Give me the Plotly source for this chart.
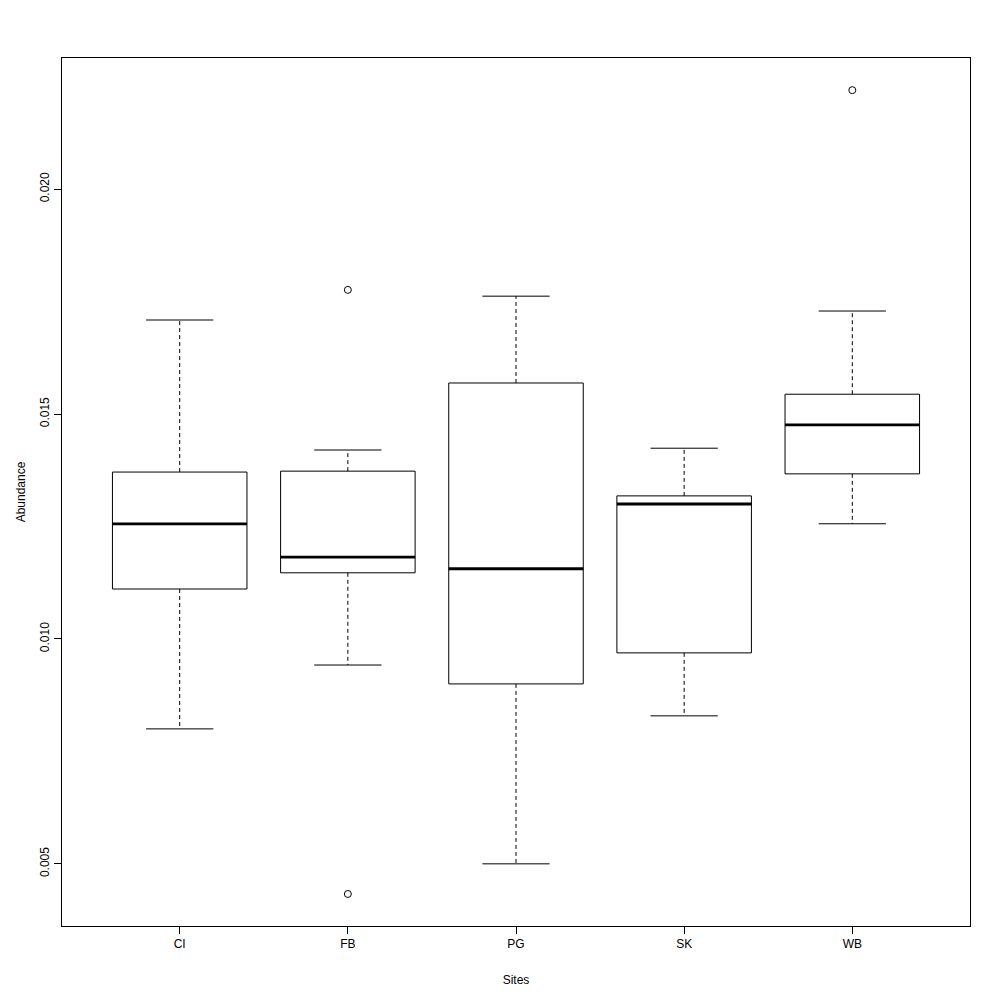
import plotly.graph_objects as go

sites = ["CI", "FB", "PG", "SK", "WB"]
lower_whisker = [0.00800, 0.00942, 0.00500, 0.00829, 0.01256]
q1 = [0.01111, 0.01147, 0.00900, 0.00969, 0.01367]
median = [0.01256, 0.01182, 0.01156, 0.01300, 0.01476]
q3 = [0.01371, 0.01373, 0.01569, 0.01318, 0.01544]
upper_whisker = [0.01709, 0.01420, 0.01762, 0.01424, 0.01729]
outlier_site = ["FB", "FB", "WB"]
outlier_value = [0.01776, 0.00433, 0.02220]
y_ticks = [0.005, 0.010, 0.015, 0.020]

BOX_W = 0.8
CAP_W = 0.4
pos = {s: i + 1 for i, s in enumerate(sites)}

fig = go.Figure()

for i, s in enumerate(sites):
    x = pos[s]
    fig.add_trace(go.Box(
        x=[x], q1=[q1[i]], median=[median[i]], q3=[q3[i]],
        lowerfence=[q1[i]], upperfence=[q3[i]],
        width=BOX_W, whiskerwidth=0, boxpoints=False,
        fillcolor="white", line=dict(color="black", width=1),
        showlegend=False, hoverinfo="skip",
    ))

wx, wy, cx, cy, mx, my = [], [], [], [], [], []
for i, s in enumerate(sites):
    x = pos[s]
    wx += [x, x, None, x, x, None]
    wy += [q3[i], upper_whisker[i], None, q1[i], lower_whisker[i], None]
    cx += [x - CAP_W / 2, x + CAP_W / 2, None, x - CAP_W / 2, x + CAP_W / 2, None]
    cy += [upper_whisker[i], upper_whisker[i], None, lower_whisker[i], lower_whisker[i], None]
    mx += [x - BOX_W / 2, x + BOX_W / 2, None]
    my += [median[i], median[i], None]

fig.add_trace(go.Scatter(x=wx, y=wy, mode="lines",
                         line=dict(color="black", width=1, dash="4px,3px"),
                         showlegend=False, hoverinfo="skip"))
fig.add_trace(go.Scatter(x=cx, y=cy, mode="lines",
                         line=dict(color="black", width=1),
                         showlegend=False, hoverinfo="skip"))
fig.add_trace(go.Scatter(x=mx, y=my, mode="lines",
                         line=dict(color="black", width=2.8),
                         showlegend=False, hoverinfo="skip"))
fig.add_trace(go.Scatter(x=[pos[s] for s in outlier_site], y=outlier_value,
                         mode="markers",
                         marker=dict(symbol="circle-open", size=7,
                                     color="black", line=dict(width=1)),
                         showlegend=False, hoverinfo="skip"))

font = dict(family="Liberation Sans, Arial, sans-serif", size=12, color="black")

fig.update_layout(
    width=992, height=992,
    margin=dict(l=51, r=30, t=50, b=74),
    paper_bgcolor="white", plot_bgcolor="white",
    font=font,
    xaxis=dict(
        range=[0.3, 5.7], tickvals=[pos[s] for s in sites], ticktext=sites,
        showgrid=False, zeroline=False, showline=True, mirror=True,
        linecolor="black", linewidth=1, ticks="outside", ticklen=7,
        tickcolor="black", tickfont=dict(size=12),
        title=dict(text="Sites", font=dict(size=12), standoff=25),
    ),
    yaxis=dict(
        range=[0.003618, 0.022915], tickvals=y_ticks,
        ticktext=[f"{v:.3f}" for v in y_ticks], tickangle=-90,
        showgrid=False, zeroline=False, showline=True, mirror=True,
        linecolor="black", linewidth=1, ticks="outside", ticklen=7,
        tickcolor="black", tickfont=dict(size=12),
        title=dict(text="Abundance", font=dict(size=12), standoff=10),
    ),
)

fig.write_html("out.html")
